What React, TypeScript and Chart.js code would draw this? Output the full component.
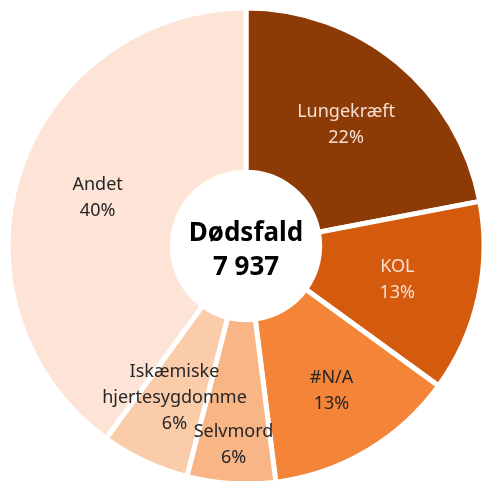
import React, { useEffect, useRef } from "react";
import { Chart, registerables } from "chart.js";

Chart.register(...registerables);

const categories = ["Lungekræft", "KOL", "#N/A", "Selvmord", "Iskæmiske hjertesygdomme", "Andet"];
const labelLines = [["Lungekræft"], ["KOL"], ["#N/A"], ["Selvmord"], ["Iskæmiske", "hjertesygdomme"], ["Andet"]];
const shares = [22, 13, 13, 6, 6, 40];
const percentLabels = ["22%", "13%", "13%", "6%", "6%", "40%"];
const centerTitle = "Dødsfald";
const centerValue = "7 937";

const colors = ["#8C3B06", "#D45B0E", "#F48437", "#F8B585", "#FBCCA9", "#FDE4D6"];
const textColors = ["#F6DFD2", "#F6DFD2", "#262626", "#262626", "#262626", "#262626"];
const labelRadius = [157, 155, 168, 199, 168, 156];

const FONT = "'Noto Sans', sans-serif";

const labelPlugin = {
  id: "sliceLabels",
  afterDatasetsDraw(chart: any) {
    const ctx = chart.ctx;
    const meta = chart.getDatasetMeta(0);
    ctx.save();
    ctx.textAlign = "center";
    ctx.textBaseline = "middle";
    ctx.font = `18px ${FONT}`;
    const lh = 26;
    meta.data.forEach((arc: any, i: number) => {
      const mid = (arc.startAngle + arc.endAngle) / 2;
      const r = labelRadius[i];
      const cx = arc.x + Math.cos(mid) * r;
      const cy = arc.y + Math.sin(mid) * r;
      const lines = [...labelLines[i], percentLabels[i]];
      const top = cy - ((lines.length - 1) * lh) / 2;
      ctx.fillStyle = textColors[i];
      lines.forEach((t, k) => ctx.fillText(t, cx, top + k * lh));
    });
    // center text
    const a = meta.data[0];
    ctx.fillStyle = "#000000";
    ctx.font = `bold 26px ${FONT}`;
    ctx.fillText(centerTitle, a.x, a.y - 12);
    ctx.fillText(centerValue, a.x, a.y + 22);
    ctx.restore();
  },
};

export default function App() {
  const ref = useRef<HTMLCanvasElement>(null);
  useEffect(() => {
    if (!ref.current) return;
    const chart = new Chart(ref.current, {
      type: "doughnut",
      data: {
        labels: categories,
        datasets: [
          {
            data: shares,
            backgroundColor: colors,
            borderColor: "#ffffff",
            borderWidth: 5,
            hoverOffset: 0,
          },
        ],
      },
      options: {
        responsive: false,
        animation: false,
        radius: 238,
        cutout: 72,
        layout: { padding: { left: 10, right: 0, top: 11, bottom: 0 } },
        plugins: {
          legend: { display: false },
          tooltip: { enabled: false },
        },
        events: [],
      } as any,
      plugins: [labelPlugin],
    });
    return () => chart.destroy();
  }, []);
  return (
    <div style={{ position: "fixed", left: 0, top: 0, width: 482, height: 481, background: "#ffffff", overflow: "hidden" }}>
      <canvas ref={ref} width={482} height={481} style={{ display: "block" }} />
    </div>
  );
}
